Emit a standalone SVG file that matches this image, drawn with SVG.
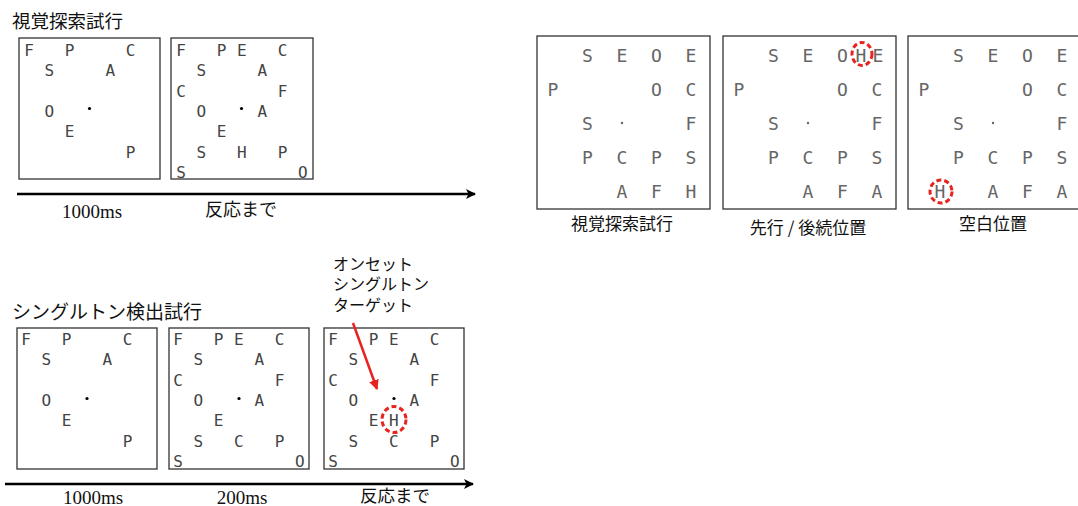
<svg xmlns="http://www.w3.org/2000/svg" width="1078" height="506" viewBox="0 0 1078 506">
<defs>
<style>
.bx{fill:#fff;stroke:#333;stroke-width:1.3}
.lt{font-family:"DejaVu Sans Mono","Liberation Mono",monospace;font-size:16px;fill:#444;text-anchor:middle}
.rt{font-family:"DejaVu Sans Mono","Liberation Mono",monospace;font-size:18px;fill:#666;text-anchor:middle}
.jp{font-family:"Noto Sans CJK JP","Noto Sans",sans-serif;fill:#111}
.tm{font-family:"Liberation Serif",serif;font-size:19px;fill:#111;text-anchor:middle}
.ring{fill:none;stroke:#e8231f;stroke-width:3;stroke-dasharray:5 3}
.tl{stroke:#000;stroke-width:2.5;fill:none}
</style>
<marker id="ah" viewBox="0 0 10 10" refX="9" refY="5" markerWidth="4" markerHeight="4" orient="auto"><path d="M0,0 L10,5 L0,10 L2.5,5 z" fill="#000"/></marker>
<marker id="ahr" viewBox="0 0 10 10" refX="9" refY="5" markerWidth="4" markerHeight="4" orient="auto"><path d="M0,0 L10,5 L0,10 z" fill="#e8231f"/></marker>
</defs>
<rect width="1078" height="506" fill="#fff"/>

<text class="jp" x="12" y="28" font-size="18.5">視覚探索試行</text>
<text class="jp" x="12" y="319" font-size="19">シングルトン検出試行</text>

<g id="vs-box1">
<rect class="bx" x="19" y="38" width="141" height="141"/>
<text class="lt" x="29" y="56">F</text>
<text class="lt" x="69.6" y="56">P</text>
<text class="lt" x="130.5" y="56">C</text>
<text class="lt" x="49.3" y="76.3">S</text>
<text class="lt" x="110.2" y="76.3">A</text>
<text class="lt" x="49.3" y="116.9">O</text>
<circle cx="89.5" cy="108.5" r="1.6" fill="#000"/>
<text class="lt" x="69.6" y="137.2">E</text>
<text class="lt" x="130.5" y="157.5">P</text>
</g>

<g id="vs-box2">
<rect class="bx" x="171" y="38" width="142" height="141"/>
<text class="lt" x="181" y="56">F</text>
<text class="lt" x="221.6" y="56">P</text>
<text class="lt" x="241.9" y="56">E</text>
<text class="lt" x="282.5" y="56">C</text>
<text class="lt" x="201.3" y="76.3">S</text>
<text class="lt" x="262.2" y="76.3">A</text>
<text class="lt" x="181" y="96.6">C</text>
<text class="lt" x="282.5" y="96.6">F</text>
<text class="lt" x="201.3" y="116.9">O</text>
<circle cx="241.5" cy="108.5" r="1.6" fill="#000"/>
<text class="lt" x="262.2" y="116.9">A</text>
<text class="lt" x="221.6" y="137.2">E</text>
<text class="lt" x="201.3" y="157.5">S</text>
<text class="lt" x="241.9" y="157.5">H</text>
<text class="lt" x="282.5" y="157.5">P</text>
<text class="lt" x="181" y="177.8">S</text>
<text class="lt" x="302.8" y="177.8">O</text>
</g>

<g id="sd-box1">
<rect class="bx" x="17" y="328" width="140" height="141"/>
<text class="lt" x="26" y="345">F</text>
<text class="lt" x="66.6" y="345">P</text>
<text class="lt" x="127.5" y="345">C</text>
<text class="lt" x="46.3" y="365.3">S</text>
<text class="lt" x="107.2" y="365.3">A</text>
<text class="lt" x="46.3" y="405.9">O</text>
<circle cx="87" cy="398.5" r="1.6" fill="#000"/>
<text class="lt" x="66.6" y="426.2">E</text>
<text class="lt" x="127.5" y="446.5">P</text>
</g>

<g id="sd-box2">
<rect class="bx" x="169" y="328" width="140" height="141"/>
<text class="lt" x="178" y="345">F</text>
<text class="lt" x="218.6" y="345">P</text>
<text class="lt" x="238.9" y="345">E</text>
<text class="lt" x="279.5" y="345">C</text>
<text class="lt" x="198.3" y="365.3">S</text>
<text class="lt" x="259.2" y="365.3">A</text>
<text class="lt" x="178" y="385.6">C</text>
<text class="lt" x="279.5" y="385.6">F</text>
<text class="lt" x="198.3" y="405.9">O</text>
<circle cx="239" cy="398.5" r="1.6" fill="#000"/>
<text class="lt" x="259.2" y="405.9">A</text>
<text class="lt" x="218.6" y="426.2">E</text>
<text class="lt" x="198.3" y="446.5">S</text>
<text class="lt" x="238.9" y="446.5">C</text>
<text class="lt" x="279.5" y="446.5">P</text>
<text class="lt" x="178" y="466.8">S</text>
<text class="lt" x="299.8" y="466.8">O</text>
</g>

<g id="sd-box3">
<rect class="bx" x="324" y="328" width="140" height="141"/>
<text class="lt" x="333" y="345">F</text>
<text class="lt" x="373.6" y="345">P</text>
<text class="lt" x="393.9" y="345">E</text>
<text class="lt" x="434.5" y="345">C</text>
<text class="lt" x="353.3" y="365.3">S</text>
<text class="lt" x="414.2" y="365.3">A</text>
<text class="lt" x="333" y="385.6">C</text>
<text class="lt" x="434.5" y="385.6">F</text>
<text class="lt" x="353.3" y="405.9">O</text>
<circle cx="394" cy="398.5" r="1.6" fill="#000"/>
<text class="lt" x="414.2" y="405.9">A</text>
<text class="lt" x="373.6" y="426.2">E</text>
<text class="lt" x="393.9" y="426.2">H</text>
<ellipse class="ring" cx="394" cy="419.5" rx="12" ry="13"/>
<text class="lt" x="353.3" y="446.5">S</text>
<text class="lt" x="393.9" y="446.5">C</text>
<text class="lt" x="434.5" y="446.5">P</text>
<text class="lt" x="333" y="466.8">S</text>
<text class="lt" x="454.8" y="466.8">O</text>
</g>

<g id="callout">
<text class="jp" x="333" y="269.5" font-size="16">オンセット</text>
<text class="jp" x="333" y="290" font-size="16">シングルトン</text>
<text class="jp" x="333" y="310.5" font-size="16">ターゲット</text>
</g>

<g id="timeline-labels">
<text class="tm" x="92" y="218">1000ms</text>
<text class="jp" x="241" y="216" font-size="18" text-anchor="middle">反応まで</text>
<text class="tm" x="93" y="504">1000ms</text>
<text class="tm" x="242" y="504">200ms</text>
<text class="jp" x="395" y="502" font-size="17.5" text-anchor="middle">反応まで</text>
</g>

<g id="connectors">
<line class="tl" x1="17" y1="194" x2="475" y2="194" marker-end="url(#ah)"/>
<line class="tl" x1="5" y1="484" x2="473" y2="484" marker-end="url(#ah)"/>
<line x1="353" y1="323" x2="377" y2="389" stroke="#e8231f" stroke-width="2.5" marker-end="url(#ahr)"/>
</g>

<g id="r-box1">
<rect class="bx" x="537" y="36" width="173" height="173"/>
<text class="rt" x="587.5" y="61.5">S</text>
<text class="rt" x="622" y="61.5">E</text>
<text class="rt" x="656.5" y="61.5">O</text>
<text class="rt" x="691" y="61.5">E</text>
<text class="rt" x="553" y="95.5">P</text>
<text class="rt" x="656.5" y="95.5">O</text>
<text class="rt" x="691" y="95.5">C</text>
<text class="rt" x="587.5" y="129.5">S</text>
<circle cx="622" cy="123" r="1.2" fill="#666"/>
<text class="rt" x="691" y="129.5">F</text>
<text class="rt" x="587.5" y="163.5">P</text>
<text class="rt" x="622" y="163.5">C</text>
<text class="rt" x="656.5" y="163.5">P</text>
<text class="rt" x="691" y="163.5">S</text>
<text class="rt" x="622" y="197.5">A</text>
<text class="rt" x="656.5" y="197.5">F</text>
<text class="rt" x="691" y="197.5" fill="#333">H</text>
<text class="jp" x="622" y="230" font-size="17" text-anchor="middle">視覚探索試行</text>
</g>

<g id="r-box2">
<rect class="bx" x="723" y="36" width="173" height="173"/>
<text class="rt" x="773.5" y="61.5">S</text>
<text class="rt" x="808" y="61.5">E</text>
<text class="rt" x="842.5" y="61.5">O</text>
<text class="rt" x="861" y="61.5" fill="#333">H</text>
<ellipse class="ring" cx="862" cy="54" rx="10" ry="11.5"/>
<text class="rt" x="878" y="61.5">E</text>
<text class="rt" x="739" y="95.5">P</text>
<text class="rt" x="842.5" y="95.5">O</text>
<text class="rt" x="877" y="95.5">C</text>
<text class="rt" x="773.5" y="129.5">S</text>
<circle cx="808" cy="123" r="1.2" fill="#666"/>
<text class="rt" x="877" y="129.5" fill="#222">F</text>
<text class="rt" x="773.5" y="163.5">P</text>
<text class="rt" x="808" y="163.5">C</text>
<text class="rt" x="842.5" y="163.5">P</text>
<text class="rt" x="877" y="163.5">S</text>
<text class="rt" x="808" y="197.5">A</text>
<text class="rt" x="842.5" y="197.5">F</text>
<text class="rt" x="877" y="197.5">A</text>
<text class="jp" x="808" y="234" font-size="17" text-anchor="middle">先行 / 後続位置</text>
</g>

<g id="r-box3">
<rect class="bx" x="908" y="36" width="173" height="173"/>
<text class="rt" x="958.5" y="61.5">S</text>
<text class="rt" x="993" y="61.5">E</text>
<text class="rt" x="1027.5" y="61.5">O</text>
<text class="rt" x="1062" y="61.5">E</text>
<text class="rt" x="924" y="95.5">P</text>
<text class="rt" x="1027.5" y="95.5">O</text>
<text class="rt" x="1062" y="95.5">C</text>
<text class="rt" x="958.5" y="129.5">S</text>
<circle cx="993" cy="123" r="1.2" fill="#666"/>
<text class="rt" x="1062" y="129.5" fill="#222">F</text>
<text class="rt" x="958.5" y="163.5">P</text>
<text class="rt" x="993" y="163.5">C</text>
<text class="rt" x="1027.5" y="163.5">P</text>
<text class="rt" x="1062" y="163.5">S</text>
<text class="rt" x="940" y="197.5" fill="#333">H</text>
<ellipse class="ring" cx="941" cy="191.5" rx="11" ry="11.5"/>
<text class="rt" x="993" y="197.5">A</text>
<text class="rt" x="1027.5" y="197.5">F</text>
<text class="rt" x="1062" y="197.5">A</text>
<text class="jp" x="993" y="230" font-size="17" text-anchor="middle">空白位置</text>
</g>
</svg>
